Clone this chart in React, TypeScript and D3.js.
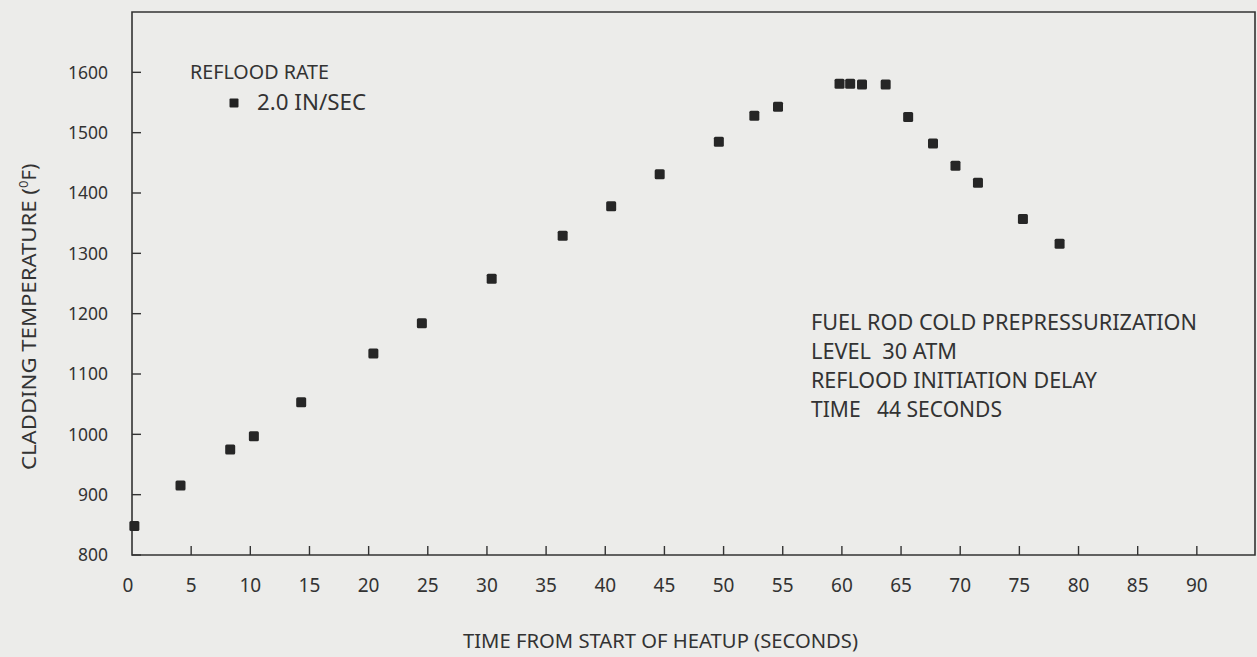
import React from "react";
import * as d3 from "d3";

const timeSec = [0.2, 4.1, 8.3, 10.3, 14.3, 20.4, 24.5, 30.4, 36.4, 40.5, 44.6, 49.6, 52.6, 54.6, 59.8, 60.7, 61.7, 63.7, 65.6, 67.7, 69.6, 71.5, 75.3, 78.4];
const tempF = [848, 915, 975, 997, 1053, 1134, 1184, 1258, 1329, 1378, 1431, 1485, 1528, 1543, 1581, 1581, 1580, 1580, 1526, 1482, 1445, 1417, 1357, 1316];
const xTicks = [0, 5, 10, 15, 20, 25, 30, 35, 40, 45, 50, 55, 60, 65, 70, 75, 80, 85, 90];
const yTicks = [800, 900, 1000, 1100, 1200, 1300, 1400, 1500, 1600];
const annotationLines = ["FUEL ROD COLD PREPRESSURIZATION", "LEVEL  30 ATM", "REFLOOD INITIATION DELAY", "TIME   44 SECONDS"];
const annotationWidths = [386, 146, 286, 191];

const W = 1257, H = 657;
const FONT = "'Noto Sans', 'Open Sans', sans-serif";
const INK = "#333333";

export default function App() {
  const x = d3.scaleLinear().domain([0, 95]).range([132, 1256]);
  const y = d3.scaleLinear().domain([800, 1700]).range([555, 12]);
  const ms = 10;
  return (
    <svg width={W} height={H} style={{ position: "absolute", left: 0, top: 0, background: "#ececea" }} fontFamily={FONT}>
      <rect x={0} y={0} width={W} height={H} fill="#ececea" />
      {/* frame */}
      <path d={`M${x(0)},${y(1700)} V${y(800)} H${x(95) - 1} V${y(1700)} Z`} fill="none" stroke={INK} strokeWidth={1.6} />
      {/* y ticks */}
      {yTicks.map((t) => (
        <g key={"y" + t}>
          <line x1={x(0)} x2={x(0) + 9} y1={y(t)} y2={y(t)} stroke={INK} strokeWidth={1.4} />
          <text x={108} y={y(t)} dy="0.35em" textAnchor="end" fontSize={18} fill={INK}
            textLength={t >= 1000 ? 40 : 30} lengthAdjust="spacingAndGlyphs">{t}</text>
        </g>
      ))}
      {/* x ticks */}
      {xTicks.map((t) => (
        <g key={"x" + t}>
          {t > 0 && <line x1={x(t)} x2={x(t)} y1={y(800)} y2={y(800) - 9} stroke={INK} strokeWidth={1.4} />}
          <text x={x(t) - (t === 0 ? 4 : 0)} y={585} dy="0.35em" textAnchor="middle" fontSize={19} fill={INK}>{t}</text>
        </g>
      ))}
      {/* axis titles */}
      <text x={463} y={641} dy="0.35em" fontSize={20} fill={INK} textLength={395} lengthAdjust="spacingAndGlyphs">TIME FROM START OF HEATUP (SECONDS)</text>
      <text transform={`translate(29,470) rotate(-90)`} dy="0.35em" fontSize={20} fill={INK}>
        <tspan textLength={282} lengthAdjust="spacingAndGlyphs">CLADDING TEMPERATURE (</tspan>
        <tspan dy="-8" fontSize={13}>0</tspan>
        <tspan dy="8">F)</tspan>
      </text>
      {/* legend */}
      <text x={190} y={72} dy="0.35em" fontSize={20} fill={INK} textLength={139} lengthAdjust="spacingAndGlyphs">REFLOOD RATE</text>
      <rect x={234 - 4.5} y={103 - 4.5} width={9} height={9} rx={1} fill="#222" />
      <text x={257} y={103} dy="0.35em" fontSize={21} fill={INK} textLength={109} lengthAdjust="spacingAndGlyphs">2.0 IN/SEC</text>
      {/* annotation */}
      {annotationLines.map((l, i) => (
        <text key={l} x={811} y={323 + i * 29} dy="0.35em" fontSize={21} fill={INK} style={{ whiteSpace: "pre" }}
          textLength={annotationWidths[i]} lengthAdjust="spacingAndGlyphs">{l}</text>
      ))}
      {/* data */}
      {timeSec.map((t, i) => (
        <rect key={i} x={x(t) - ms / 2} y={y(tempF[i]) - ms / 2} width={ms} height={ms} rx={1.5} fill="#262626" />
      ))}
    </svg>
  );
}
